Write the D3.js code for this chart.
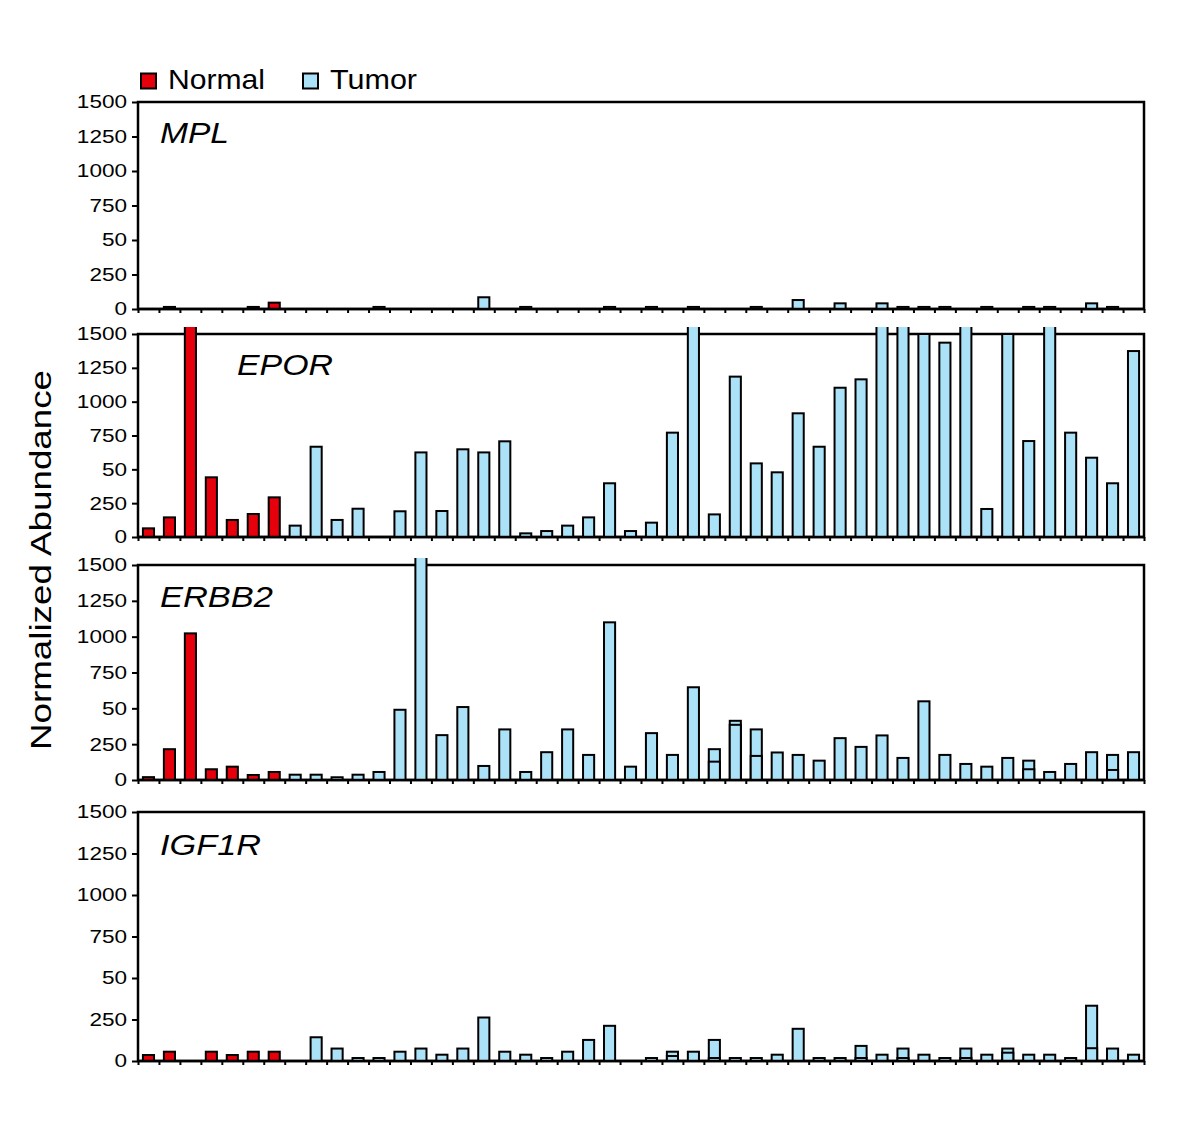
<!DOCTYPE html>
<html><head><meta charset="utf-8">
<script src="https://cdn.jsdelivr.net/npm/d3@7"></script>
<style>body{margin:0;background:#fff} svg{display:block}</style>
</head><body>
<svg id="c" width="1200" height="1128"></svg>
<script>
// ---------- data ----------
const samples = [1,2,3,4,5,6,7,8,9,10,11,12,13,14,15,16,17,18,19,20,21,22,23,24,
                 25,26,27,28,29,30,31,32,33,34,35,36,37,38,39,40,41,42,43,44,45,46,47,48];
const normalSamples = [1,2,3,4,5,6,7];
const genes = ["MPL","EPOR","ERBB2","IGF1R"];

const MPL = [0,15,0,0,0,15,46,0,0,0, 0,15,0,0,0,0,85,0,15,0,
             0,0,15,0,15,0,15,0,0,15, 0,65,0,41,0,41,15,15,15,0,
             15,0,15,15,0,41,15,0];
const EPOR = [64,145,1600,441,126,170,293,84,667,126, 209,0,190,625,192,648,625,707,27,44,
              84,145,397,44,106,771,1600,167,1185,544, 478,914,667,1103,1165,1600,1600,1500,1436,1600,
              207,1500,709,1600,771,586,397,1374];
const ERBB2 = [20,215,1023,75,93,35,56,37,37,19, 37,56,490,1600,313,509,98,353,56,194,
               353,175,1100,93,327,175,647,215,413,353, 192,175,135,292,231,311,154,549,175,112,
               93,154,135,56,112,194,175,194];
const IGF1R = [36,56,0,56,36,56,56,0,143,75, 18,18,56,75,38,75,262,56,38,18,
               56,127,212,0,18,56,56,127,18,18, 38,194,18,18,91,38,75,38,18,75,
               38,75,38,38,18,333,75,38];
// second (overlapping) measurement visible as inner lines in some bars
const ERBB2_inner = [0,0,0,0,0,0,0,0,0,0, 0,0,0,0,0,0,0,0,0,0,
                     0,0,0,0,0,0,0,128,385,168, 0,0,0,0,0,0,0,0,0,0,
                     0,0,75,0,0,0,70,0];
const IGF1R_inner = [0,0,0,0,0,0,0,0,0,0, 0,0,0,0,0,0,0,0,0,0,
                     0,0,0,0,0,30,0,18,0,0, 0,0,0,0,18,0,18,0,0,18,
                     0,50,0,0,0,77,0,0];
const MPL_inner = samples.map(() => 0);
const EPOR_inner = samples.map(() => 0);

const seriesValues = [MPL, EPOR, ERBB2, IGF1R];
const innerValues = [MPL_inner, EPOR_inner, ERBB2_inner, IGF1R_inner];

const yTickValues = [0,250,500,750,1000,1250,1500];
const yTickLabels = ["0","250","50","750","1000","1250","1500"];
const legendLabels = ["Normal","Tumor"];
const yTitle = "Normalized Abundance";

// ---------- layout / style ----------
const COLORS = {Normal:"#e6000c", Tumor:"#ace2f8"};
const FONT = "'Liberation Sans', Arial, Helvetica, sans-serif";
const X0 = 138, X1 = 1144;
const OVER = 7; // bars above the scale are cut this many px above the frame
const panelLayout = [
  {top:102, bottom:309, tx:160, ty:143, tlen:69},
  {top:334, bottom:537, tx:237, ty:375, tlen:96},
  {top:565, bottom:780, tx:160, ty:607, tlen:113},
  {top:812, bottom:1061, tx:160, ty:855, tlen:101}
];

const svg = d3.select("#c");
const defs = svg.append("defs");
const x = d3.scaleBand().domain(samples).range([X0, X1]).paddingInner(0.47).paddingOuter(0.235);
const xb = d3.scaleLinear().domain([0, samples.length]).range([X0, X1]);
const typeOf = s => normalSamples.includes(s) ? "Normal" : "Tumor";

genes.forEach((gene, gi) => {
  const L = panelLayout[gi];
  const y = d3.scaleLinear().domain([0,1500]).range([L.bottom, L.top]);
  const g = svg.append("g");

  defs.append("clipPath").attr("id", "clip" + gi).append("rect")
    .attr("x", X0 - 5).attr("y", L.top - OVER).attr("width", X1 - X0 + 10).attr("height", L.bottom - L.top + OVER + 5);

  // frame
  g.append("rect").attr("x", X0).attr("y", L.top).attr("width", X1 - X0).attr("height", L.bottom - L.top)
    .attr("fill","none").attr("stroke","#000").attr("stroke-width",2.5);

  const data = samples.map((s, i) => ({s, v: seriesValues[gi][i], w: innerValues[gi][i]}));
  const bars = g.append("g").attr("clip-path", `url(#clip${gi})`);

  bars.selectAll("rect.bar").data(data.filter(d => d.v > 0)).join("rect")
    .attr("class","bar")
    .attr("x", d => x(d.s)).attr("width", x.bandwidth())
    .attr("y", d => y(d.v)).attr("height", d => y(0) - y(d.v))
    .attr("fill", d => COLORS[typeOf(d.s)])
    .attr("stroke","#000").attr("stroke-width",2);

  bars.selectAll("rect.inner").data(data.filter(d => d.w > 0)).join("rect")
    .attr("class","inner")
    .attr("x", d => x(d.s)).attr("width", x.bandwidth())
    .attr("y", d => y(d.w)).attr("height", d => y(0) - y(d.w))
    .attr("fill", d => COLORS[typeOf(d.s)])
    .attr("stroke","#000").attr("stroke-width",2);

  // baseline redraw
  g.append("line").attr("x1", X0).attr("x2", X1).attr("y1", L.bottom).attr("y2", L.bottom)
    .attr("stroke","#000").attr("stroke-width",2.5);

  // y axis
  const ya = g.append("g").attr("transform", `translate(${X0},0)`)
    .call(d3.axisLeft(y).tickValues(yTickValues).tickFormat((d,i) => yTickLabels[i])
      .tickSize(6).tickPadding(3));
  ya.select(".domain").remove();
  ya.selectAll(".tick line").attr("stroke","#000").attr("stroke-width",2);
  ya.selectAll(".tick text").attr("font-family", FONT).attr("font-size", 18.5).attr("fill","#000")
    .attr("transform","scale(1.22,1)");

  // x ticks
  const xa = g.append("g").attr("transform", `translate(0,${L.bottom})`)
    .call(d3.axisBottom(xb).tickValues(d3.range(0, samples.length + 1)).tickSize(4).tickFormat(""));
  xa.select(".domain").remove();
  xa.selectAll(".tick line").attr("stroke","#000").attr("stroke-width",2);

  // gene label
  g.append("text").attr("x", L.tx).attr("y", L.ty).text(gene)
    .attr("font-family", FONT).attr("font-style","italic").attr("font-size", 30)
    .attr("textLength", L.tlen).attr("lengthAdjust","spacingAndGlyphs");
});

// legend
const legendLayout = [{rx:141, tx:168, tlen:97}, {rx:303, tx:330, tlen:87}];
legendLabels.forEach((lab, i) => {
  const LL = legendLayout[i];
  svg.append("rect").attr("x", LL.rx).attr("y", 73.5).attr("width", 15).attr("height", 15)
    .attr("fill", COLORS[lab]).attr("stroke","#000").attr("stroke-width",2);
  svg.append("text").attr("x", LL.tx).attr("y", 88.5).text(lab)
    .attr("font-family", FONT).attr("font-size", 28)
    .attr("textLength", LL.tlen).attr("lengthAdjust","spacingAndGlyphs");
});

// y title
svg.append("text").attr("transform","translate(51,560) rotate(-90)")
  .attr("text-anchor","middle").text(yTitle)
  .attr("font-family", FONT).attr("font-size", 30)
  .attr("textLength", 380).attr("lengthAdjust","spacingAndGlyphs");
</script>
</body></html>
